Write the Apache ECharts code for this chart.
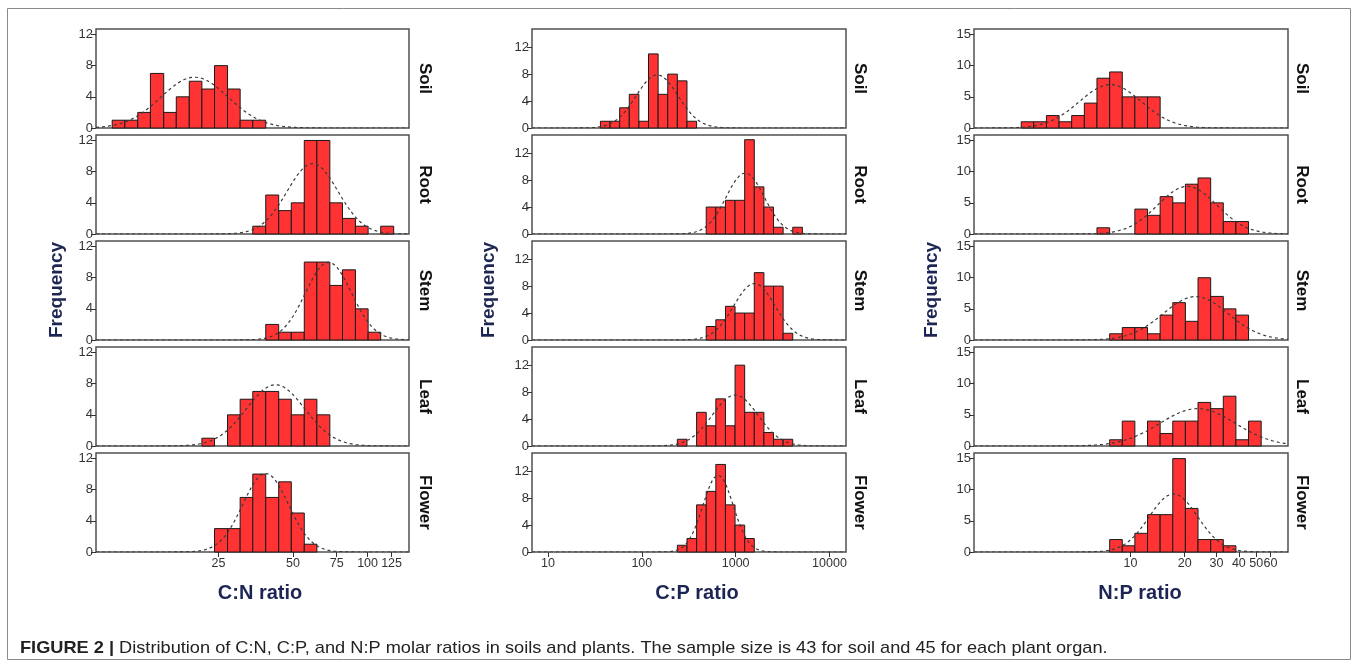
<!DOCTYPE html>
<html><head><meta charset="utf-8">
<script src="https://cdn.jsdelivr.net/npm/echarts@6/dist/echarts.min.js"></script>
<style>html,body{margin:0;padding:0;background:#fff}#c{width:1358px;height:666px}</style>
</head><body><div id="c"></div>
<script>
// ---------------- DATA ----------------
const organs = ['Soil', 'Root', 'Stem', 'Leaf', 'Flower'];
const ratioNames = ['C:N ratio', 'C:P ratio', 'N:P ratio'];

// C:N histogram bin edges (ratio units, log-spaced bins) and counts per organ
const cnEdges = [9.3, 10.46, 11.8, 13.27, 15.02, 16.88, 19.05, 21.42, 24.09, 27.19, 30.57, 34.38,
  38.79, 43.75, 49.2, 55.51, 62.42, 70.41, 79.19, 89.33, 100.5, 113.0, 127.5];
const cnSoil   = [1,1,2,7,2,4,6,5,8,5,1,1,0,0,0,0,0,0,0,0,0,0];
const cnRoot   = [0,0,0,0,0,0,0,0,0,0,0,1,5,3,4,12,12,4,2,1,0,1];
const cnStem   = [0,0,0,0,0,0,0,0,0,0,0,0,2,1,1,10,10,7,9,4,1,0];
const cnLeaf   = [0,0,0,0,0,0,0,1,0,4,6,7,7,6,4,6,4,0,0,0,0,0];
const cnFlower = [0,0,0,0,0,0,0,0,3,3,7,10,7,9,5,1,0,0,0,0,0,0];

// C:P
const cpEdges = [36.2, 45.8, 58.0, 73.5, 93.0, 117.8, 149.2, 188.9, 239.1, 302.8, 383.5, 485.6,
  614.8, 778.5, 985.4, 1248, 1580, 2001, 2533, 3207, 4060, 5140];
const cpSoil   = [1,1,3,5,1,11,5,8,7,1,0,0,0,0,0,0,0,0,0,0,0];
const cpRoot   = [0,0,0,0,0,0,0,0,0,0,0,4,4,5,5,14,7,4,1,0,1];
const cpStem   = [0,0,0,0,0,0,0,0,0,0,0,2,3,5,4,4,10,8,8,1,0];
const cpLeaf   = [0,0,0,0,0,0,0,0,1,0,5,3,7,3,12,5,5,2,1,1,0];
const cpFlower = [0,0,0,0,0,0,0,0,1,2,7,9,13,7,4,2,0,0,0,0,0];

// N:P
const npEdges = [2.47, 2.9, 3.41, 4.01, 4.71, 5.54, 6.51, 7.66, 9.0, 10.57, 12.43, 14.61, 17.17,
  20.18, 23.72, 27.89, 32.78, 38.52, 45.28, 53.22];
const npSoil   = [1,1,2,1,2,4,8,9,5,5,5,0,0,0,0,0,0,0,0];
const npRoot   = [0,0,0,0,0,0,1,0,0,4,3,6,5,8,9,5,2,2,0];
const npStem   = [0,0,0,0,0,0,0,1,2,2,1,4,6,3,10,7,5,4,0];
const npLeaf   = [0,0,0,0,0,0,0,1,4,0,4,2,4,4,7,6,8,1,4];
const npFlower = [0,0,0,0,0,0,0,2,1,3,6,6,15,7,2,2,1,0,0];

// tick labels
const cnTicks = [25, 50, 75, 100, 125];
const cpTicks = [10, 100, 1000, 10000];
const npTicks = [10, 20, 30, 40, 50, 60];
const cnYTicks = [0, 4, 8, 12];
const cpYTicks = [0, 4, 8, 12];
const npYTicks = [0, 5, 10, 15];

const captionBold = 'FIGURE 2 |';
const captionText = ' Distribution of C:N, C:P, and N:P molar ratios in soils and plants. The sample size is 43 for soil and 45 for each plant organ.';

// ---------------- LAYOUT ----------------
const columns = [
  { edges: cnEdges, counts: [cnSoil, cnRoot, cnStem, cnLeaf, cnFlower], xTicks: cnTicks, yTicks: cnYTicks,
    xMin: 8, xMax: 147, yMax: 12.7, left: 96, width: 313, labelX: 425, freqX: 57, nameX: 260 },
  { edges: cpEdges, counts: [cpSoil, cpRoot, cpStem, cpLeaf, cpFlower], xTicks: cpTicks, yTicks: cpYTicks,
    xMin: 6.75, xMax: 15000, yMax: 14.7, left: 532, width: 314, labelX: 860, freqX: 489, nameX: 697 },
  { edges: npEdges, counts: [npSoil, npRoot, npStem, npLeaf, npFlower], xTicks: npTicks, yTicks: npYTicks,
    xMin: 1.35, xMax: 75, yMax: 15.9, left: 974, width: 314, labelX: 1302, freqX: 932, nameX: 1140 }
];
const rowTops = [29, 135, 241, 347, 453];
const rowH = 99;
const FONT = '"Liberation Sans", Arial, sans-serif';
const navy = '#1d2554';

const grids = [], xAxes = [], yAxes = [], series = [], graphics = [];

function renderBar(params, api) {
  const a = api.coord([api.value(0), 0]);
  const b = api.coord([api.value(1), api.value(2)]);
  return {
    type: 'rect',
    shape: { x: a[0], y: b[1], width: b[0] - a[0], height: a[1] - b[1] },
    style: { fill: '#ff3333', stroke: '#1a1a1a', lineWidth: 1 }
  };
}

columns.forEach((col, c) => {
  const lgEdges = col.edges.map(Math.log10);
  const B = col.counts[0].length;
  const w = (lgEdges[B] - lgEdges[0]) / B;
  col.counts.forEach((cnt, r) => {
    const idx = c * 5 + r;
    const bottomRow = r === 4;
    grids.push({ left: col.left, top: rowTops[r], width: col.width, height: rowH,
      show: true, borderColor: '#505050', borderWidth: 1.5, backgroundColor: '#fff',
      containLabel: false, outerBoundsMode: 'none' });
    xAxes.push({ gridIndex: idx, type: 'log', logBase: 10, min: col.xMin, max: col.xMax,
      axisLine: { show: false }, splitLine: { show: false }, minorTick: { show: false },
      axisTick: { show: bottomRow, customValues: col.xTicks, length: 5, lineStyle: { color: '#333' } },
      axisLabel: { show: bottomRow, customValues: col.xTicks, formatter: v => String(Math.round(v)),
        interval: 0, hideOverlap: false,
        fontSize: 12.5, color: '#333', margin: 5, fontFamily: FONT } });
    yAxes.push({ gridIndex: idx, type: 'value', min: 0, max: col.yMax,
      axisLine: { show: false }, splitLine: { show: false },
      axisTick: { show: true, customValues: col.yTicks, length: 5, lineStyle: { color: '#333' } },
      axisLabel: { customValues: col.yTicks, fontSize: 13, color: '#333', margin: 3, fontFamily: FONT } });
    const barData = [];
    cnt.forEach((n, k) => { if (n > 0) barData.push([col.edges[k], col.edges[k + 1], n]); });
    series.push({ type: 'custom', xAxisIndex: idx, yAxisIndex: idx, renderItem: renderBar,
      data: barData, encode: { x: [0, 1], y: 2 }, silent: true, z: 2 });
    // normal curve fitted to the histogram (log scale), as in the original
    let N = 0, s = 0;
    cnt.forEach((n, k) => { N += n; s += n * (lgEdges[k] + lgEdges[k + 1]) / 2; });
    const mean = s / N;
    let v = 0;
    cnt.forEach((n, k) => { const d = (lgEdges[k] + lgEdges[k + 1]) / 2 - mean; v += n * d * d; });
    const sd = Math.sqrt(v / (N - 1));
    const lmin = Math.log10(col.xMin), lmax = Math.log10(col.xMax);
    const curve = [];
    const steps = 200;
    for (let i = 0; i <= steps; i++) {
      const lx = lmin + (lmax - lmin) * i / steps;
      const y = N * w / (sd * Math.sqrt(2 * Math.PI)) * Math.exp(-Math.pow(lx - mean, 2) / (2 * sd * sd));
      curve.push([Math.pow(10, lx), y]);
    }
    series.push({ type: 'line', xAxisIndex: idx, yAxisIndex: idx, data: curve, symbol: 'none',
      silent: true, z: 3, lineStyle: { type: [3, 3], color: '#3a3a3a', width: 1.2 } });
    graphics.push({ type: 'text', x: col.labelX, y: rowTops[r] + rowH / 2, rotation: -Math.PI / 2,
      style: { text: organs[r], font: 'bold 17px ' + FONT, fill: '#111', align: 'center', verticalAlign: 'middle' } });
  });
  graphics.push({ type: 'text', x: col.freqX, y: 290, rotation: Math.PI / 2,
    style: { text: 'Frequency', font: 'bold 19px ' + FONT, fill: navy, align: 'center', verticalAlign: 'middle' } });
  graphics.push({ type: 'text', x: col.nameX, y: 593,
    style: { text: ratioNames[c], font: 'bold 20px ' + FONT, fill: navy, align: 'center', verticalAlign: 'middle' } });
});

graphics.push({ type: 'rect', shape: { x: 7.5, y: 8.5, width: 1343, height: 651 },
  style: { fill: 'none', stroke: '#8a8a8a', lineWidth: 1 }, z: -1 });
graphics.push({ type: 'text', x: 20, y: 648, scaleX: 1.07,
  style: { text: '{b|' + captionBold + '}' + captionText,
    font: '17px "Liberation Sans", Arial, sans-serif', fill: '#222',
    verticalAlign: 'middle',
    rich: { b: { font: 'bold 17px "Liberation Sans", Arial, sans-serif', fill: '#222' } } } });

const chart = echarts.init(document.getElementById('c'), null, { renderer: 'canvas' });
chart.setOption({
  animation: false,
  backgroundColor: '#fff',
  grid: grids, xAxis: xAxes, yAxis: yAxes, series: series,
  graphic: { elements: graphics }
});
</script>
</body></html>
